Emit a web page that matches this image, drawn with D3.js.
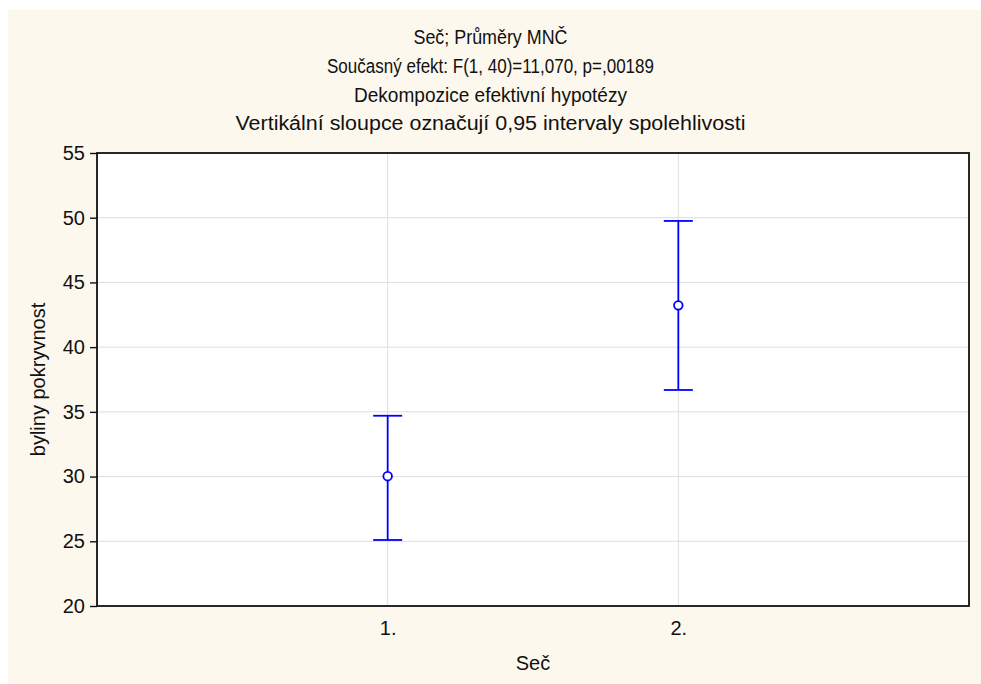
<!DOCTYPE html>
<html>
<head>
<meta charset="utf-8">
<script src="https://cdn.jsdelivr.net/npm/d3@7"></script>
<style>
html,body{margin:0;padding:0;background:#fff;}
svg{display:block;}
text{font-family:"Liberation Sans",Arial,sans-serif;fill:#111;}
</style>
</head>
<body>
<svg id="chart" width="981" height="684"></svg>
<script>
// ---- data ----
const categories = ["1.", "2."];
const means = [30.03, 43.23];
const lower = [25.10, 36.69];
const upper = [34.70, 49.75];
const yTicks = [20, 25, 30, 35, 40, 45, 50, 55];
const titleLines = [
  "Seč; Průměry MNČ",
  "Současný efekt: F(1, 40)=11,070, p=,00189",
  "Dekompozice efektivní hypotézy",
  "Vertikální sloupce označují 0,95 intervaly spolehlivosti"
];
const titleWidths = [154, 327, 273, 510];
const xTitle = "Seč";
const yTitle = "byliny pokryvnost";

// ---- layout ----
const svg = d3.select("#chart");
const W = 981, H = 684;
const plot = {left: 97, top: 153, right: 969, bottom: 606};
const FONT = "'Liberation Sans', Arial, sans-serif";

svg.append("rect").attr("x", 0).attr("y", 0).attr("width", W).attr("height", H).attr("fill", "#ffffff");
svg.append("rect").attr("x", 8).attr("y", 10).attr("width", W - 8).attr("height", H - 10).attr("fill", "#fdf8ee");
svg.append("rect").attr("x", plot.left).attr("y", plot.top)
  .attr("width", plot.right - plot.left).attr("height", plot.bottom - plot.top).attr("fill", "#ffffff");

const y = d3.scaleLinear().domain([20, 55]).range([plot.bottom, plot.top]);
const x = d3.scalePoint().domain(["", ...categories, " "]).range([plot.left, plot.right]);

// grid
svg.append("g").selectAll("line").data(yTicks.slice(1, -1)).join("line")
  .attr("x1", plot.left).attr("x2", plot.right)
  .attr("y1", d => y(d)).attr("y2", d => y(d))
  .attr("stroke", "#dedede").attr("stroke-width", 1);
svg.append("g").selectAll("line").data(categories).join("line")
  .attr("x1", d => x(d)).attr("x2", d => x(d))
  .attr("y1", plot.top).attr("y2", plot.bottom)
  .attr("stroke", "#dedede").attr("stroke-width", 1);

// y axis
const yAxis = d3.axisLeft(y).tickValues(yTicks).tickSize(7).tickPadding(5).tickFormat(d3.format("d"));
const gy = svg.append("g").attr("transform", `translate(${plot.left},0)`).call(yAxis);
gy.select(".domain").remove();
gy.selectAll(".tick line").attr("stroke", "#111").attr("stroke-width", 1.4);
gy.selectAll(".tick text").attr("font-size", 20).attr("fill", "#111").attr("font-family", FONT);

// x axis
const xAxis = d3.axisBottom(x).tickValues(categories).tickSize(0).tickPadding(15);
const gx = svg.append("g").attr("transform", `translate(0,${plot.bottom})`).call(xAxis);
gx.select(".domain").remove();
gx.selectAll(".tick text").attr("font-size", 20).attr("fill", "#111").attr("font-family", FONT);

// frame
svg.append("rect").attr("x", plot.left).attr("y", plot.top)
  .attr("width", plot.right - plot.left).attr("height", plot.bottom - plot.top)
  .attr("fill", "none").attr("stroke", "#111").attr("stroke-width", 1.8);

// error bars
const capHalf = 14.5;
const g = svg.append("g");
categories.forEach((c, i) => {
  const cx = x(c);
  g.append("line").attr("x1", cx).attr("x2", cx).attr("y1", y(lower[i])).attr("y2", y(upper[i]))
    .attr("stroke", "#0000ff").attr("stroke-width", 1.8);
  g.append("line").attr("x1", cx - capHalf).attr("x2", cx + capHalf).attr("y1", y(upper[i])).attr("y2", y(upper[i]))
    .attr("stroke", "#0000ff").attr("stroke-width", 1.8);
  g.append("line").attr("x1", cx - capHalf).attr("x2", cx + capHalf).attr("y1", y(lower[i])).attr("y2", y(lower[i]))
    .attr("stroke", "#0000ff").attr("stroke-width", 1.8);
  g.append("circle").attr("cx", cx).attr("cy", y(means[i])).attr("r", 4.3)
    .attr("fill", "#ffffff").attr("stroke", "#0000ff").attr("stroke-width", 1.8);
});

// titles
const titleY = [44, 73, 102, 130];
svg.append("g").selectAll("text").data(titleLines).join("text")
  .attr("x", 490.5).attr("y", (d, i) => titleY[i])
  .attr("text-anchor", "middle").attr("font-size", 20)
  .attr("textLength", (d, i) => titleWidths[i]).attr("lengthAdjust", "spacingAndGlyphs")
  .text(d => d);

// axis titles
svg.append("text").attr("x", (plot.left + plot.right) / 2).attr("y", 670)
  .attr("text-anchor", "middle").attr("font-size", 20).text(xTitle);
svg.append("text").attr("transform", `translate(45,${(plot.top + plot.bottom) / 2}) rotate(-90)`)
  .attr("text-anchor", "middle").attr("font-size", 20).text(yTitle);
</script>
</body>
</html>
